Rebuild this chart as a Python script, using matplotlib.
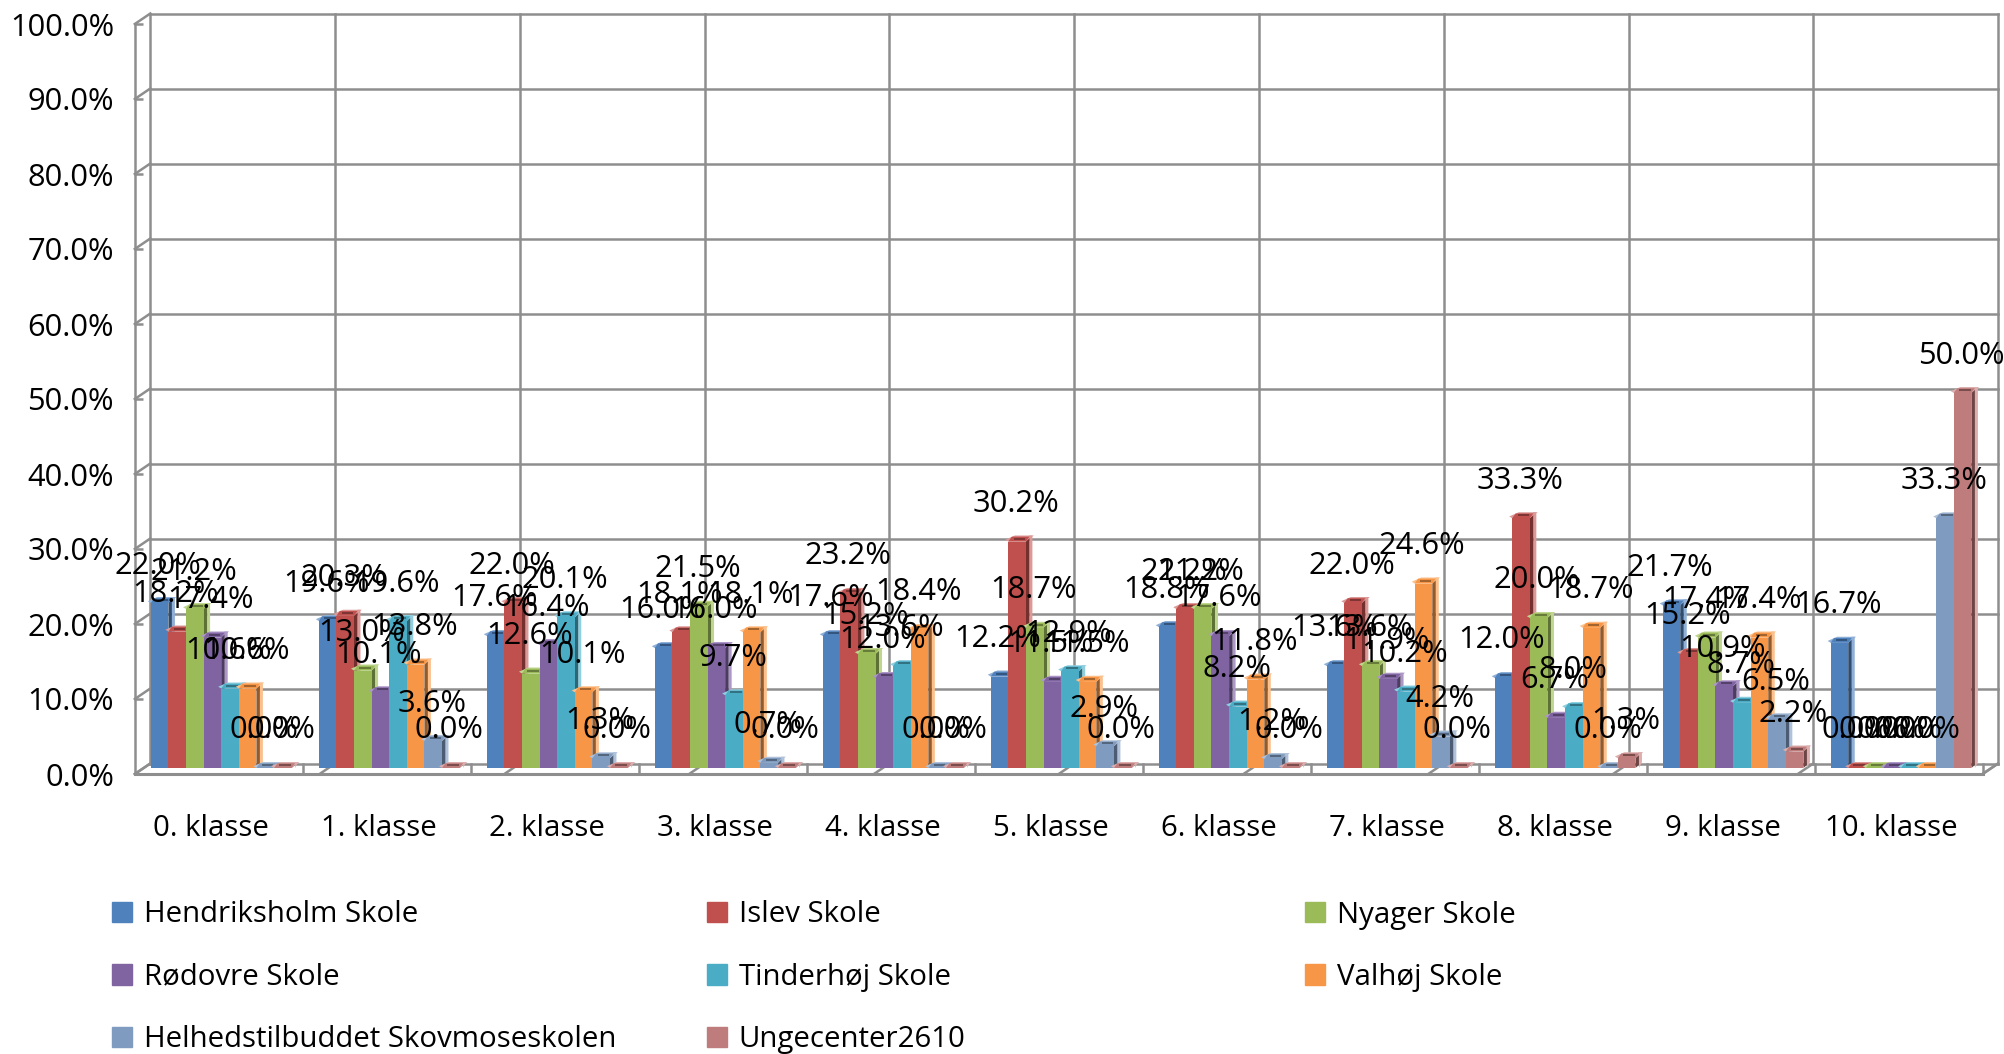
import matplotlib
matplotlib.use("Agg")
import matplotlib.pyplot as plt
from matplotlib.patches import Polygon, Patch

plt.rcParams['font.family'] = ['Open Sans', 'DejaVu Sans']

klasser = ["0. klasse", "1. klasse", "2. klasse", "3. klasse", "4. klasse", "5. klasse",
           "6. klasse", "7. klasse", "8. klasse", "9. klasse", "10. klasse"]

hendriksholm = [22.0, 19.6, 17.6, 16.0, 17.6, 12.2, 18.8, 13.6, 12.0, 21.7, 16.7]
islev = [18.2, 20.3, 22.0, 18.1, 23.2, 30.2, 21.2, 22.0, 33.3, 15.2, 0.0]
nyager = [21.2, 13.0, 12.6, 21.5, 15.2, 18.7, 21.2, 13.6, 20.0, 17.4, 0.0]
roedovre = [17.4, 10.1, 16.4, 16.0, 12.0, 11.5, 17.6, 11.9, 6.7, 10.9, 0.0]
tinderhoej = [10.6, 19.6, 20.1, 9.7, 13.6, 12.9, 8.2, 10.2, 8.0, 8.7, 0.0]
valhoej = [10.6, 13.8, 10.1, 18.1, 18.4, 11.5, 11.8, 24.6, 18.7, 17.4, 0.0]
helhed = [0.0, 3.6, 1.3, 0.7, 0.0, 2.9, 1.2, 4.2, 0.0, 6.5, 33.3]
ungecenter = [0.0, 0.0, 0.0, 0.0, 0.0, 0.0, 0.0, 0.0, 1.3, 2.2, 50.0]

navne = ["Hendriksholm Skole", "Islev Skole", "Nyager Skole", "Rødovre Skole",
         "Tinderhøj Skole", "Valhøj Skole", "Helhedstilbuddet Skovmoseskolen", "Ungecenter2610"]
serier = [hendriksholm, islev, nyager, roedovre, tinderhoej, valhoej, helhed, ungecenter]
farver = ["#4F81BD", "#C0504D", "#9BBB59", "#8064A2", "#4BACC6", "#F79646", "#7F9BBF", "#BE7C7C"]
sider = ["#2F4D71", "#73302E", "#5D7035", "#4C3C61", "#2D6776", "#945A2A", "#4C5D73", "#6E4444"]
lyse = ["#8FAFD6", "#DB9A98", "#C0D690", "#AD97C6", "#90CFDF", "#FBC08C", "#B0C2D9", "#DDAEAE"]
yticks = [0, 10, 20, 30, 40, 50, 60, 70, 80, 90, 100]

W, H = 2004, 1054
GRID = "#8E8E8E"
TAL = 22.2
TEKST = 21.2
# front plane of the chart in pixels
x0, x1, y0, y1 = 134.8, 1982.6, 774.0, 24.0

fig = plt.figure(figsize=(W / 100, H / 100), dpi=100)
ax = fig.add_axes([x0 / W, 1 - y0 / H, (x1 - x0) / W, (y0 - y1) / H])
ax.set_xlim(0, 11)
ax.set_ylim(0, 100)
ax.patch.set_visible(False)
for s in ["top", "right"]:
    ax.spines[s].set_visible(False)
for s in ["left", "bottom"]:
    ax.spines[s].set_color(GRID)
ax.spines["left"].set_linewidth(1.8)
ax.spines["bottom"].set_linewidth(2.2)

px_x = 11 / (x1 - x0)
px_y = 100 / (y0 - y1)
dx, dy = 15.5 * px_x, 10.5 * px_y   # wall depth
kw = dict(color=GRID, lw=1.8, zorder=1, clip_on=False)

# back wall
for v in yticks:
    ax.plot([dx, 11 + dx], [v + dy, v + dy], **kw)
    ax.plot([0, dx], [v, v + dy], **kw)
for k in range(11):
    xb = k * 1.1
    ax.plot([xb + dx, xb + dx], [dy, 100 + dy], **kw)
    ax.plot([xb, xb + dx], [0, dy], **kw)
ax.plot([11, 11 + dx], [0, dy], **kw)
for k in range(1, 12):
    ax.plot([k, k], [0, dy], **kw)

# bars, left to right so each front covers the side of the one before
bx = 16.0 * px_x
bw = 17.6 * px_x
by = 6.0 * px_y
sx, sy = 6.5 * px_x, 6.0 * px_y
mx = 3.5 * px_x
tip = 3.0 * px_x
z = 3
for k in range(len(klasser)):
    for i, s in enumerate(serier):
        v = s[k]
        xl = k + bx + i * bw
        xr = xl + bw
        top = by + v
        # light strip at the far side, dark side, then the top
        ax.add_patch(Polygon([(xr + mx, by), (xr + sx, by + sy), (xr + sx, top + sy), (xr + mx, top + sy)],
                             fc=lyse[i], ec="none", zorder=z))
        ax.add_patch(Polygon([(xr, by), (xr + mx, by + 0.5 * sy), (xr + mx, top + sy), (xr, top)],
                             fc=sider[i], ec="none", zorder=z))
        ax.add_patch(Polygon([(xl - tip, top + 0.3 * sy), (xl + sx, top + sy), (xr + sx + 1.5 * px_x, top + sy),
                              (xr + mx, top + 0.5 * sy), (xr, top), (xl, top)],
                             fc=lyse[i], ec="none", zorder=z + 1))
        ax.add_patch(Polygon([(xl, top), (xr, top), (xr + mx, top + 0.8 * sy), (xl + mx, top + 0.8 * sy)],
                             fc=farver[i], ec="none", zorder=z + 1))
        ax.plot([xl + 0.3 * bw, xr - 0.05 * bw], [top + 0.5 * sy, top + 0.5 * sy],
                color=sider[i], lw=1.2, zorder=z + 1, solid_capstyle="butt")
        ax.bar(xl, v, width=bw, bottom=by, align="edge", color=farver[i], zorder=z + 2)
        z += 3

# labels on top of everything
for k in range(len(klasser)):
    for i, s in enumerate(serier):
        xc = k + bx + (i + 0.5) * bw
        ax.annotate("%.1f%%" % s[k], xy=(xc, by + s[k]), xytext=(-1, 27),
                    textcoords="offset points", ha="center", va="center",
                    fontsize=TAL, color="black", zorder=100000, annotation_clip=False)

ax.set_yticks(yticks)
ax.set_yticklabels(["%.1f%%" % v for v in yticks], fontsize=TAL)
ax.tick_params(axis="y", direction="in", length=6, width=1.8, color=GRID, pad=15)
ax.set_xticks([k + 0.5 - 7.5 * px_x for k in range(len(klasser))])
ax.set_xticklabels(klasser, fontsize=TEKST)
ax.tick_params(axis="x", length=0, pad=29)

# legend, three columns at fixed places
kolonner = [[0, 3, 6], [1, 4, 7], [2, 5]]
venstre = [112, 707, 1305]
for kol, xl in zip(kolonner, venstre):
    fig.legend(handles=[Patch(color=farver[i], label=navne[i]) for i in kol],
               loc="upper left", bbox_to_anchor=(xl / W, 1 - 900.5 / H), frameon=False,
               fontsize=TEKST, handlelength=0.68, handleheight=0.68, handletextpad=0.4,
               labelspacing=1.13, borderpad=0, borderaxespad=0)

fig.savefig("out.png", dpi=100)
